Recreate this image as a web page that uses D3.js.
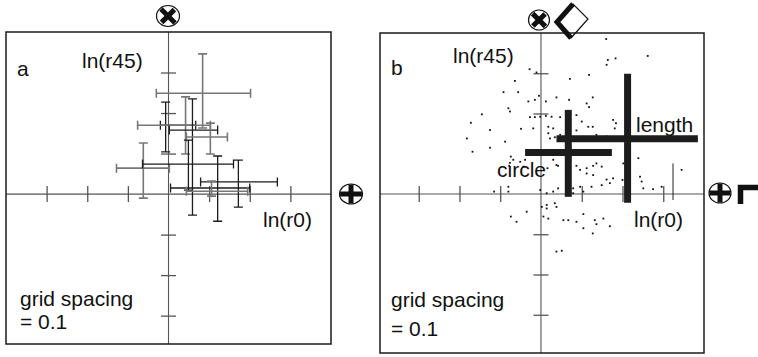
<!DOCTYPE html>
<html>
<head>
<meta charset="utf-8">
<script src="https://cdn.jsdelivr.net/npm/d3@7"></script>
<style>
  body { margin: 0; background: #fff; }
  svg { display: block; }
  text { font-family: "Liberation Sans", Arial, sans-serif; fill: #111; }
</style>
</head>
<body>
<svg id="chart" width="758" height="357"></svg>
<script>
// grid ticks every 0.1 in ln units
const gridTicks = [-0.3, -0.2, -0.1, 0.1, 0.2, 0.3];

// panel a: one cross per sample, centre and low/high ends on both axes
const barR0 = [0.084, -0.007, 0.042, 0.059, 0.103, -0.062, 0.049, 0.121, 0.172, 0.106];
const barR45 = [0.249, 0.170, 0.170, 0.158, 0.141, 0.064, 0.074, 0.030, 0.015, 0.007];
const barR0Lo = [-0.030, -0.020, -0.076, 0.002, 0.044, -0.128, -0.064, 0.079, 0.005, 0.044];
const barR0Hi = [0.202, 0.067, 0.103, 0.121, 0.145, 0.002, 0.160, 0.268, 0.200, 0.195];
const barR45Lo = [0.163, 0.104, 0.099, -0.052, 0.099, -0.010, 0.010, -0.067, -0.032, -0.005];
const barR45Hi = [0.346, 0.227, 0.240, 0.235, 0.175, 0.126, 0.133, 0.094, 0.084, 0.032];
const barGroup = [1, 2, 1, 2, 1, 1, 2, 2, 2, 1];

// panel b: scattered single measurements [ln(r0), ln(r45)]
const scatterPoints = [
  [0.161, 0.321], [-0.011, 0.302], [0.118, 0.296], [-0.064, 0.281], [0.071, 0.286],
  [-0.092, 0.253], [-0.056, 0.253], [-0.005, 0.244], [-0.031, 0.230], [-0.015, 0.234],
  [0.012, 0.230], [0.038, 0.240], [0.069, 0.234], [0.127, 0.240], [0.112, 0.225],
  [0.118, 0.216], [-0.080, 0.213], [-0.076, 0.205], [-0.145, 0.198], [-0.027, 0.191],
  [-0.015, 0.191], [-0.002, 0.192], [0.012, 0.194], [0.026, 0.192], [0.047, 0.191],
  [0.087, 0.196], [0.100, 0.180], [0.116, 0.167], [0.127, 0.167], [0.177, 0.184],
  [0.184, 0.176], [0.181, 0.163], [-0.172, 0.177], [-0.125, 0.159], [-0.088, 0.130],
  [-0.049, 0.162], [-0.019, 0.163], [0.018, 0.167], [0.030, 0.163], [0.018, 0.151],
  [0.022, 0.138], [0.034, 0.141], [0.047, 0.147], [0.087, 0.158], [0.096, 0.138],
  [0.112, 0.134], [0.128, 0.138], [0.136, 0.147], [0.149, 0.138], [0.161, 0.143],
  [-0.182, 0.138], [-0.168, 0.105], [-0.125, 0.115], [-0.074, 0.093], [-0.068, 0.085],
  [-0.051, 0.080], [-0.039, 0.085], [-0.078, 0.070], [-0.043, 0.068], [0.030, 0.085],
  [0.038, 0.072], [0.016, 0.064], [0.042, 0.070], [0.087, 0.070], [0.096, 0.060],
  [0.112, 0.064], [0.112, 0.051], [0.128, 0.070], [0.136, 0.076], [0.149, 0.068],
  [0.128, 0.047], [0.161, 0.036], [0.202, 0.076], [0.200, 0.035], [0.239, 0.089],
  [0.243, 0.043], [0.247, 0.031], [0.251, 0.014], [0.345, 0.060], [0.177, 0.039],
  [0.169, 0.027], [0.149, 0.022], [0.124, 0.018], [0.096, 0.018], [0.079, 0.014],
  [0.104, 0.006], [-0.115, 0.006], [-0.080, 0.018], [-0.080, 0.006], [-0.002, 0.010],
  [0.014, 0.002], [0.030, 0.006], [0.042, 0.014], [0.079, 0.002], [0.275, 0.012],
  [0.296, 0.018], [0.234, -0.044], [0.002, -0.032], [0.014, -0.027], [0.034, -0.023],
  [0.014, -0.036], [0.038, -0.032], [-0.035, -0.044], [0.006, -0.056], [0.018, -0.061],
  [0.055, -0.065], [0.067, -0.065], [0.087, -0.069], [0.104, -0.050], [0.132, -0.065],
  [0.136, -0.075], [0.153, -0.061], [0.169, -0.080], [0.104, -0.085], [0.127, -0.098],
  [-0.074, -0.056], [-0.060, -0.069], [0.038, -0.143], [0.051, -0.141],
  [0.160, 0.385], [0.164, 0.333], [0.183, 0.337], [0.262, 0.343], [-0.028, 0.310]
];

// panel b: the two summary crosses
const crossNames = ['circle', 'length'];
const crossR0 = [0.067, 0.2125];
const crossR45 = [0.103, 0.137];
const crossR0Lo = [-0.039, 0.038];
const crossR0Hi = [0.174, 0.385];
const crossR45Lo = [-0.007, -0.022];
const crossR45Hi = [0.209, 0.299];

// lone thin bar in panel b
const thinR0 = 0.324;
const thinR45 = [-0.015, 0.076];

const layout = {
  a: {left: 6, top: 32, right: 331, bottom: 344, r0: [-0.4, 0.4], r45: [-0.37, 0.4]},
  b: {left: 380, top: 33, right: 704, bottom: 353, r0: [-0.395, 0.4], r45: [-0.395, 0.4]}
};
const groupColour = {1: '#777', 2: '#1c1c1c'};

const svg = d3.select('#chart');

function panel(key) {
  const L = layout[key];
  const x = d3.scaleLinear().domain(L.r0).range([L.left, L.right]);
  const y = d3.scaleLinear().domain(L.r45).range([L.bottom, L.top]);
  const g = svg.append('g').attr('class', 'panel-' + key);

  g.append('line')
    .attr('x1', L.left).attr('x2', L.right)
    .attr('y1', y(0)).attr('y2', y(0))
    .attr('stroke', '#555').attr('stroke-width', 1.1);
  g.append('line')
    .attr('x1', x(0)).attr('x2', x(0))
    .attr('y1', L.top).attr('y2', L.bottom)
    .attr('stroke', '#555').attr('stroke-width', 1.1);

  const xa = g.append('g')
    .attr('transform', `translate(0,${y(0) - 8})`)
    .call(d3.axisBottom(x).tickValues(gridTicks).tickSize(16).tickFormat(''));
  const ya = g.append('g')
    .attr('transform', `translate(${x(0) - 7.5},0)`)
    .call(d3.axisRight(y).tickValues(gridTicks).tickSize(15).tickFormat(''));
  [xa, ya].forEach((ax) => {
    ax.select('.domain').remove();
    ax.selectAll('text').remove();
    ax.selectAll('line').attr('stroke', '#555').attr('stroke-width', 1.3);
  });

  g.append('rect')
    .attr('x', L.left).attr('y', L.top)
    .attr('width', L.right - L.left).attr('height', L.bottom - L.top)
    .attr('fill', 'none').attr('stroke', '#1a1a1a').attr('stroke-width', 1.5);

  return {g, x, y};
}

function label(g, txt, x, y) {
  g.append('text').attr('x', x).attr('y', y).attr('font-size', 21).text(txt);
}

// circled cross: rot 0 -> plus, rot 45 -> x
function circled(cx, cy, rx, ry, rot) {
  const s = svg.append('g').attr('transform', `translate(${cx},${cy})`);
  s.append('ellipse').attr('rx', rx).attr('ry', ry)
    .attr('fill', '#fff').attr('stroke', '#111').attr('stroke-width', 1.2);
  const arm = s.append('g').attr('transform', `rotate(${rot})`);
  const k = rot ? 0.86 : 0.95;
  arm.append('line').attr('x1', -rx * k).attr('x2', rx * k)
    .attr('stroke', '#111').attr('stroke-width', 5);
  arm.append('line').attr('y1', -ry * k).attr('y2', ry * k)
    .attr('stroke', '#111').attr('stroke-width', 5);
}

// ---- panel a ----
const pa = panel('a');
const barsA = pa.g.append('g').selectAll('g')
  .data(d3.range(barR0.length))
  .join('g')
  .attr('stroke', (i) => groupColour[barGroup[i]])
  .attr('stroke-width', (i) => barGroup[i] === 1 ? 1.6 : 1.3)
  .attr('fill', 'none');
const cap = 4.5;
barsA.append('path')
  .attr('d', (i) => {
    const yc = pa.y(barR45[i]), x0 = pa.x(barR0Lo[i]), x1 = pa.x(barR0Hi[i]);
    return `M${x0},${yc}H${x1}M${x0},${yc - cap}V${yc + cap}M${x1},${yc - cap}V${yc + cap}`;
  });
barsA.append('path')
  .attr('d', (i) => {
    const xc = pa.x(barR0[i]), y0 = pa.y(barR45Lo[i]), y1 = pa.y(barR45Hi[i]);
    return `M${xc},${y0}V${y1}M${xc - cap},${y0}H${xc + cap}M${xc - cap},${y1}H${xc + cap}`;
  });

label(pa.g, 'a', 17, 76);
label(pa.g, 'ln(r45)', 82, 68);
label(pa.g, 'ln(r0)', 263, 227);
label(pa.g, 'grid spacing', 20, 306);
label(pa.g, '= 0.1', 20, 329);

circled(168, 16, 11.5, 10.5, 45);
circled(351, 194, 11.5, 10, 0);

// ---- panel b ----
const pb = panel('b');
pb.g.append('g').selectAll('rect')
  .data(scatterPoints)
  .join('rect')
  .attr('x', (d) => pb.x(d[0]) - 0.9)
  .attr('y', (d) => pb.y(d[1]) - 0.9)
  .attr('width', 1.8).attr('height', 1.8)
  .attr('fill', '#111');

pb.g.append('line')
  .attr('x1', pb.x(thinR0)).attr('x2', pb.x(thinR0))
  .attr('y1', pb.y(thinR45[0])).attr('y2', pb.y(thinR45[1]))
  .attr('stroke', '#222').attr('stroke-width', 1);

const crossesB = pb.g.append('g').selectAll('g')
  .data(d3.range(crossNames.length))
  .join('g')
  .attr('stroke', '#1c1c1c').attr('stroke-width', 7);
crossesB.append('line')
  .attr('x1', (i) => pb.x(crossR0Lo[i])).attr('x2', (i) => pb.x(crossR0Hi[i]))
  .attr('y1', (i) => pb.y(crossR45[i])).attr('y2', (i) => pb.y(crossR45[i]));
crossesB.append('line')
  .attr('x1', (i) => pb.x(crossR0[i])).attr('x2', (i) => pb.x(crossR0[i]))
  .attr('y1', (i) => pb.y(crossR45Lo[i])).attr('y2', (i) => pb.y(crossR45Hi[i]));

label(pb.g, 'b', 391, 75);
label(pb.g, 'ln(r45)', 453, 63);
label(pb.g, 'circle', 497, 177);
label(pb.g, 'length', 636, 132);
label(pb.g, 'ln(r0)', 634, 227);
label(pb.g, 'grid spacing', 391, 307);
label(pb.g, '= 0.1', 391, 336);

circled(539, 20, 10.5, 10, 45);
circled(720, 193, 11, 10, 0);

// open diamond, heavy on its left edges
const dia = svg.append('g');
dia.append('path')
  .attr('d', 'M557,22L573,4L588,19L571,38Z')
  .attr('fill', 'none').attr('stroke', '#111').attr('stroke-width', 1.2);
dia.append('path')
  .attr('d', 'M573,4L557,22L571,38')
  .attr('fill', 'none').attr('stroke', '#111').attr('stroke-width', 5)
  .attr('stroke-linejoin', 'miter');

// open square, heavy on its top and left edges
svg.append('path')
  .attr('d', 'M740.5,204V187.5H760')
  .attr('fill', 'none').attr('stroke', '#111').attr('stroke-width', 5.5)
  .attr('stroke-linejoin', 'miter');
</script>
</body>
</html>
